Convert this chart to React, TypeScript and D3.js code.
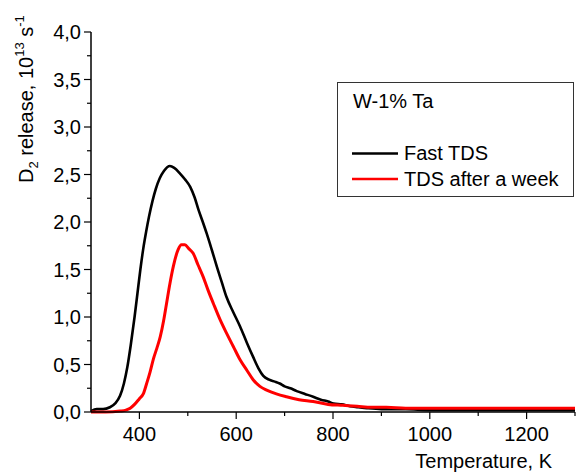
import React, { useEffect, useRef } from "react";
import * as d3 from "d3";

// Fast TDS (black)
const fastT = [300, 312, 325, 339, 350, 360, 368, 375, 382, 390, 396, 402, 408, 414, 420, 427, 434, 442, 451, 463, 472, 484, 494, 505, 514, 522, 531, 539, 550, 560, 570, 580, 594, 608, 622, 635, 646, 656, 668, 680, 690, 700, 712, 725, 742, 759, 775, 790, 801, 818, 835, 852, 870, 900, 950, 1000, 1050, 1100, 1150, 1200, 1250, 1300];
const fastD = [0.01, 0.03, 0.03, 0.05, 0.09, 0.17, 0.3, 0.47, 0.7, 1.0, 1.25, 1.5, 1.72, 1.9, 2.06, 2.22, 2.35, 2.46, 2.54, 2.59, 2.57, 2.51, 2.45, 2.37, 2.26, 2.13, 2.0, 1.88, 1.7, 1.53, 1.37, 1.21, 1.05, 0.9, 0.73, 0.58, 0.46, 0.38, 0.34, 0.32, 0.3, 0.27, 0.25, 0.22, 0.19, 0.16, 0.13, 0.11, 0.09, 0.08, 0.06, 0.05, 0.04, 0.03, 0.03, 0.02, 0.02, 0.02, 0.02, 0.02, 0.02, 0.02];

// TDS after a week (red)
const weekT = [300, 330, 360, 372, 381, 390, 400, 408, 415, 422, 429, 436, 443, 450, 456, 463, 470, 480, 487, 494, 502, 511, 521, 532, 542, 553, 566, 580, 594, 608, 622, 635, 649, 663, 683, 704, 730, 759, 790, 820, 850, 880, 910, 950, 1000, 1050, 1100, 1150, 1200, 1250, 1300];
const weekD = [0.0, 0.0, 0.01, 0.02, 0.04, 0.08, 0.14, 0.19, 0.3, 0.42, 0.56, 0.67, 0.79, 0.96, 1.14, 1.35, 1.53, 1.71, 1.76, 1.76, 1.72, 1.67, 1.55, 1.42, 1.28, 1.14, 0.98, 0.83, 0.69, 0.55, 0.44, 0.34, 0.27, 0.23, 0.19, 0.16, 0.13, 0.11, 0.08, 0.07, 0.06, 0.05, 0.05, 0.04, 0.04, 0.04, 0.04, 0.04, 0.04, 0.04, 0.04];

const xMajor = [400, 600, 800, 1000, 1200];
const xMinor = [500, 700, 900, 1100, 1300];
const yMajor = [0, 0.5, 1, 1.5, 2, 2.5, 3, 3.5, 4];
const yMinor = [0.25, 0.75, 1.25, 1.75, 2.25, 2.75, 3.25, 3.75];

const legendTitle = "W-1% Ta";
const seriesNames = ["Fast TDS", "TDS after a week"];
const seriesColors = ["#000000", "#ff0000"];

const App = () => {
  const svgRef = useRef<SVGSVGElement>(null);

  useEffect(() => {
    const svg = d3.select(svgRef.current);
    svg.selectAll("*").remove();

    const font = "'Liberation Sans', Arial, sans-serif";
    const x = d3.scaleLinear().domain([300, 1300]).range([91, 575]);
    const y = d3.scaleLinear().domain([0, 4]).range([412, 32]);
    const fmt = (v: number) => d3.format(".1f")(v).replace(".", ",");

    const g = svg.append("g").style("font-family", font);

    // curves
    const series = [
      { t: fastT, v: fastD, color: seriesColors[0], w: 2.6 },
      { t: weekT, v: weekD, color: seriesColors[1], w: 3 },
    ];
    series.forEach((s) => {
      const ln = d3
        .line<number>()
        .x((d) => x(d))
        .y((d, i) => y(s.v[i]))
        .curve(d3.curveMonotoneX);
      g.append("path")
        .attr("d", ln(s.t))
        .attr("fill", "none")
        .attr("stroke", s.color)
        .attr("stroke-width", s.w)
        .attr("stroke-linejoin", "round");
    });

    // axes lines
    g.append("line")
      .attr("x1", x(300)).attr("x2", x(300))
      .attr("y1", y(4)).attr("y2", y(0))
      .attr("stroke", "#000").attr("stroke-width", 1.5);
    g.append("line")
      .attr("x1", x(300)).attr("x2", x(1300))
      .attr("y1", y(0)).attr("y2", y(0))
      .attr("stroke", "#000").attr("stroke-width", 1.5);

    // y ticks
    yMajor.forEach((v) => {
      g.append("line")
        .attr("x1", x(300) - 7).attr("x2", x(300))
        .attr("y1", y(v)).attr("y2", y(v))
        .attr("stroke", "#000").attr("stroke-width", 1.2);
      g.append("text")
        .attr("x", 81)
        .attr("y", y(v))
        .attr("dy", "0.36em")
        .attr("text-anchor", "end")
        .style("font-size", "20px")
        .text(fmt(v));
    });
    yMinor.forEach((v) => {
      g.append("line")
        .attr("x1", x(300) - 4).attr("x2", x(300))
        .attr("y1", y(v)).attr("y2", y(v))
        .attr("stroke", "#000").attr("stroke-width", 1.2);
    });

    // x ticks
    xMajor.forEach((v) => {
      g.append("line")
        .attr("x1", x(v)).attr("x2", x(v))
        .attr("y1", y(0)).attr("y2", y(0) + 7)
        .attr("stroke", "#000").attr("stroke-width", 1.2);
      g.append("text")
        .attr("x", x(v))
        .attr("y", 441)
        .attr("text-anchor", "middle")
        .style("font-size", "20px")
        .text(v);
    });
    xMinor.forEach((v) => {
      g.append("line")
        .attr("x1", x(v)).attr("x2", x(v))
        .attr("y1", y(0)).attr("y2", y(0) + 4)
        .attr("stroke", "#000").attr("stroke-width", 1.2);
    });

    // axis titles
    g.append("text")
      .attr("x", 552)
      .attr("y", 468)
      .attr("text-anchor", "end")
      .style("font-size", "20px")
      .text("Temperature, K");

    const yt = g.append("text")
      .attr("transform", "translate(33,183) rotate(-90)")
      .attr("text-anchor", "start")
      .style("font-size", "20px");
    yt.append("tspan").text("D");
    yt.append("tspan").attr("dy", 5).style("font-size", "13px").text("2");
    yt.append("tspan").attr("dy", -5).text(" release, 10");
    yt.append("tspan").attr("dy", -9).style("font-size", "13px").text("13");
    yt.append("tspan").attr("dy", 9).text(" s");
    yt.append("tspan").attr("dy", -9).style("font-size", "13px").text("-1");

    // legend
    g.append("rect")
      .attr("x", 337.5).attr("y", 82.5)
      .attr("width", 236).attr("height", 114)
      .attr("fill", "#fff")
      .attr("stroke", "#333").attr("stroke-width", 1);
    g.append("text")
      .attr("x", 353).attr("y", 108)
      .style("font-size", "20px")
      .text(legendTitle);
    seriesNames.forEach((name, i) => {
      const ly = 153.5 + i * 25.5;
      g.append("line")
        .attr("x1", 352).attr("x2", 398)
        .attr("y1", ly).attr("y2", ly)
        .attr("stroke", seriesColors[i]).attr("stroke-width", 2.5);
      g.append("text")
        .attr("x", 404).attr("y", ly + 6.5)
        .style("font-size", "20px")
        .text(name);
    });
  }, []);

  return (
    <div style={{ position: "absolute", left: 0, top: 0 }}>
      <svg ref={svgRef} width={579} height={474} style={{ display: "block", background: "#fff" }}></svg>
    </div>
  );
};

export default App;
